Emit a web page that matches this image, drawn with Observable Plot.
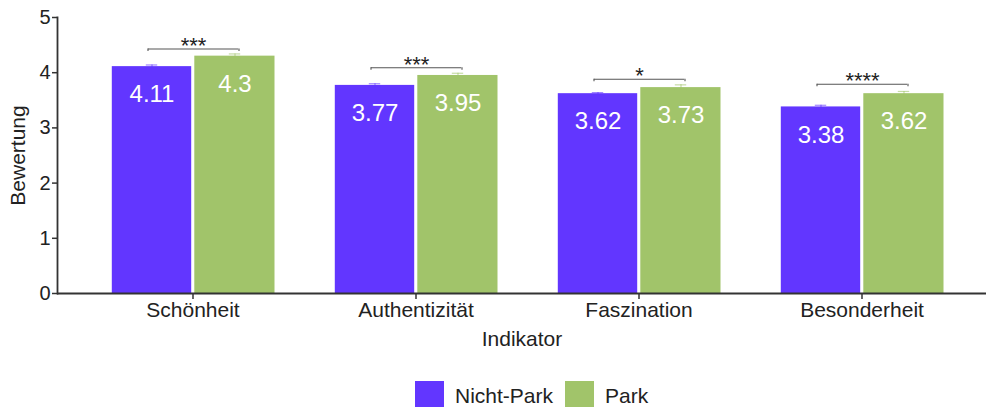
<!DOCTYPE html>
<html>
<head>
<meta charset="utf-8">
<script src="https://cdn.jsdelivr.net/npm/d3@7"></script>
<script src="https://cdn.jsdelivr.net/npm/@observablehq/plot@0.6"></script>
<style>
  html, body { margin: 0; padding: 0; background: white; overflow: hidden; }
  #legend { display: flex; align-items: center; margin-top: 9px; padding-left: 415px;
            font-family: "Liberation Sans", Arial, sans-serif; font-size: 21px; color: #222; }
  #legend .sw { width: 29px; height: 29px; margin-right: 11px; flex: none; }
  #legend .item { display: flex; align-items: center; margin-right: 12px; }
</style>
</head>
<body>
<div id="chart"></div>
<script>
// ---- data ----
const categories = ["Schönheit", "Authentizität", "Faszination", "Besonderheit"];
const groups = ["Nicht-Park", "Park"];
const colors = ["#6236FF", "#A1C46A"];
const nichtPark = [4.11, 3.77, 3.62, 3.38];
const park = [4.3, 3.95, 3.73, 3.62];
const seNichtPark = [0.03, 0.03, 0.02, 0.03];
const sePark = [0.04, 0.04, 0.05, 0.04];
const sigLabels = ["***", "***", "*", "****"];
const bracketY = [4.43, 4.09, 3.88, 3.79];
const yTicks = [0, 1, 2, 3, 4, 5];
const xTitle = "Indikator";
const yTitle = "Bewertung";

// ---- tidy table ----
const rows = [];
categories.forEach((c, i) => {
  rows.push({cat: c, group: groups[0], value: nichtPark[i], se: seNichtPark[i]});
  rows.push({cat: c, group: groups[1], value: park[i], se: sePark[i]});
});
const rowsA = rows.filter(d => d.group === groups[0]);
const rowsB = rows.filter(d => d.group === groups[1]);
const sig = categories.map((c, i) => ({cat: c, y: bracketY[i], label: sigLabels[i]}));

const axisCol = "#333";
const textCol = "#222";

const chart = Plot.plot({
  width: 986,
  height: 372,
  marginLeft: 57,
  marginRight: 0,
  marginTop: 17,
  marginBottom: 79,
  style: {fontFamily: "'Liberation Sans', Arial, sans-serif", fontSize: "20px", color: textCol, background: "white"},
  x: {domain: categories, range: [57, 996], paddingInner: 0, paddingOuter: 0.1},
  y: {domain: [0, 5]},
  color: {domain: groups, range: colors},
  marks: [
    // bars
    Plot.barY(rowsA, {x: "cat", y: "value", fill: "group", insetLeft: 30.8, insetRight: 112.8}),
    Plot.barY(rowsB, {x: "cat", y: "value", fill: "group", insetLeft: 113.3, insetRight: 29.5}),
    // error bars
    Plot.ruleX(rowsA, {x: "cat", y1: d => d.value - d.se, y2: d => d.value + d.se, stroke: "group", strokeOpacity: 0.6, strokeWidth: 1.2, dx: -41}),
    Plot.ruleX(rowsB, {x: "cat", y1: d => d.value - d.se, y2: d => d.value + d.se, stroke: "group", strokeOpacity: 0.6, strokeWidth: 1.2, dx: 42}),
    Plot.tickY(rowsA, {x: "cat", y: d => d.value + d.se, stroke: "group", strokeOpacity: 0.6, strokeWidth: 1.2, insetLeft: 64.8, insetRight: 146.8}),
    Plot.tickY(rowsA, {x: "cat", y: d => d.value - d.se, stroke: "group", strokeOpacity: 0.6, strokeWidth: 1.2, insetLeft: 64.8, insetRight: 146.8}),
    Plot.tickY(rowsB, {x: "cat", y: d => d.value + d.se, stroke: "group", strokeOpacity: 0.6, strokeWidth: 1.2, insetLeft: 147.8, insetRight: 63.8}),
    Plot.tickY(rowsB, {x: "cat", y: d => d.value - d.se, stroke: "group", strokeOpacity: 0.6, strokeWidth: 1.2, insetLeft: 147.8, insetRight: 63.8}),
    // value labels
    Plot.text(rowsA, {x: "cat", y: "value", text: d => String(d.value), fill: "white", fontSize: 24, dx: -41, dy: 28, lineAnchor: "middle"}),
    Plot.text(rowsB, {x: "cat", y: "value", text: d => String(d.value), fill: "white", fontSize: 24, dx: 42, dy: 28, lineAnchor: "middle"}),
    // significance brackets
    Plot.tickY(sig, {x: "cat", y: "y", stroke: "#555", strokeWidth: 1.1, insetLeft: 66.8, insetRight: 65.8}),
    Plot.ruleX(sig, {x: "cat", y1: "y", y2: d => d.y - 0.045, stroke: "#555", strokeWidth: 1.1, dx: -45}),
    Plot.ruleX(sig, {x: "cat", y1: "y", y2: d => d.y - 0.045, stroke: "#555", strokeWidth: 1.1, dx: 46}),
    Plot.text(sig, {x: "cat", y: "y", text: "label", fontSize: 22, fill: textCol, lineAnchor: "bottom", dy: 4, dx: 0.5}),
    // axes
    Plot.axisX({tickSize: 6, tickPadding: 3, fontSize: 21, stroke: axisCol, strokeWidth: 1.5, fill: textCol, label: null}),
    Plot.axisY({ticks: yTicks, tickFormat: d => String(d), tickSize: 5, tickPadding: 2, fontSize: 20, stroke: axisCol, strokeWidth: 1.5, fill: textCol, label: null}),
    Plot.ruleY([0], {stroke: axisCol, strokeWidth: 1.8}),
    Plot.frame({anchor: "left", stroke: axisCol, strokeWidth: 1.8}),
    // titles
    Plot.text([xTitle], {frameAnchor: "bottom", dy: 52, lineAnchor: "bottom", fontSize: 21, fill: textCol}),
    Plot.text([yTitle], {frameAnchor: "left", dx: -39, rotate: -90, textAnchor: "middle", lineAnchor: "middle", fontSize: 21, fill: textCol})
  ]
});
document.getElementById("chart").appendChild(chart);

// legend from the plot's color scale
const cs = chart.scale("color");
const legend = document.createElement("div");
legend.id = "legend";
cs.domain.forEach((g, i) => {
  const item = document.createElement("div");
  item.className = "item";
  const sw = document.createElement("span");
  sw.className = "sw";
  sw.style.background = cs.range[i];
  const t = document.createElement("span");
  t.textContent = g;
  item.appendChild(sw);
  item.appendChild(t);
  legend.appendChild(item);
});
document.body.appendChild(legend);
</script>
</body>
</html>
